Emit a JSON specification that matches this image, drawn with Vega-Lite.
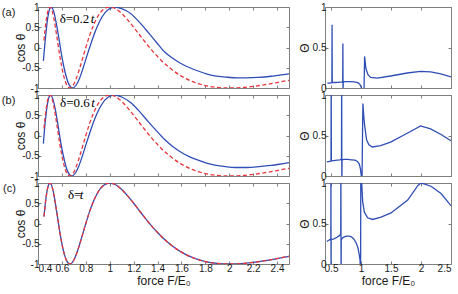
{
  "$schema": "https://vega.github.io/schema/vega-lite/v6.json",
  "padding": {"left": 1, "top": 1, "right": 0, "bottom": 0},
  "background": "white",
  "spacing": 7,
  "config": {
    "view": {"stroke": "#7f7f7f", "strokeWidth": 1},
    "axis": {"domain": false, "grid": false, "tickColor": "#7f7f7f", "tickSize": -3, "labelPadding": 2, "labelFont": "Liberation Sans", "labelFontSize": 10, "labelColor": "#1a1a1a", "titleFont": "Liberation Sans", "titleFontSize": 12, "titleFontWeight": "normal", "titleColor": "#1a1a1a", "labelExpr": "'' + datum.value"},
    "title": {"font": "Liberation Sans", "fontSize": 11, "fontWeight": "normal", "color": "#1a1a1a", "offset": -14}
  },
  "datasets": {
    "cos": [
      {"p":"a","s":"red","F":0.45,"v":0.173},{"p":"a","s":"red","F":0.46,"v":0.46},{"p":"a","s":"red","F":0.47,"v":0.695},{"p":"a","s":"red","F":0.48,"v":0.866},{"p":"a","s":"red","F":0.49,"v":0.967},{"p":"a","s":"red","F":0.5,"v":1},{"p":"a","s":"red","F":0.52,"v":0.886},{"p":"a","s":"red","F":0.54,"v":0.597},{"p":"a","s":"red","F":0.56,"v":0.223},{"p":"a","s":"red","F":0.58,"v":-0.162},{"p":"a","s":"red","F":0.6,"v":-0.5},{"p":"a","s":"red","F":0.62,"v":-0.758},{"p":"a","s":"red","F":0.64,"v":-0.924},{"p":"a","s":"red","F":0.667,"v":-1},{"p":"a","s":"red","F":0.7,"v":-0.901},{"p":"a","s":"red","F":0.72,"v":-0.766},{"p":"a","s":"red","F":0.75,"v":-0.5},{"p":"a","s":"red","F":0.78,"v":-0.2},{"p":"a","s":"red","F":0.8,"v":0},{"p":"a","s":"red","F":0.83,"v":0.28},{"p":"a","s":"red","F":0.86,"v":0.52},{"p":"a","s":"red","F":0.9,"v":0.766},{"p":"a","s":"red","F":0.95,"v":0.946},{"p":"a","s":"red","F":1,"v":1},{"p":"a","s":"red","F":1.05,"v":0.956},{"p":"a","s":"red","F":1.1,"v":0.841},{"p":"a","s":"red","F":1.15,"v":0.683},{"p":"a","s":"red","F":1.2,"v":0.5},{"p":"a","s":"red","F":1.25,"v":0.309},{"p":"a","s":"red","F":1.3,"v":0.121},{"p":"a","s":"red","F":1.35,"v":-0.058},{"p":"a","s":"red","F":1.4,"v":-0.223},{"p":"a","s":"red","F":1.5,"v":-0.5},{"p":"a","s":"red","F":1.6,"v":-0.707},{"p":"a","s":"red","F":1.7,"v":-0.85},{"p":"a","s":"red","F":1.8,"v":-0.94},{"p":"a","s":"red","F":1.9,"v":-0.986},{"p":"a","s":"red","F":2,"v":-1},{"p":"a","s":"red","F":2.1,"v":-0.989},{"p":"a","s":"red","F":2.2,"v":-0.96},{"p":"a","s":"red","F":2.3,"v":-0.918},{"p":"a","s":"red","F":2.4,"v":-0.866},{"p":"a","s":"red","F":2.5,"v":-0.809},
      {"p":"b","s":"red","F":0.45,"v":0.173},{"p":"b","s":"red","F":0.46,"v":0.46},{"p":"b","s":"red","F":0.47,"v":0.695},{"p":"b","s":"red","F":0.48,"v":0.866},{"p":"b","s":"red","F":0.49,"v":0.967},{"p":"b","s":"red","F":0.5,"v":1},{"p":"b","s":"red","F":0.52,"v":0.886},{"p":"b","s":"red","F":0.54,"v":0.597},{"p":"b","s":"red","F":0.56,"v":0.223},{"p":"b","s":"red","F":0.58,"v":-0.162},{"p":"b","s":"red","F":0.6,"v":-0.5},{"p":"b","s":"red","F":0.62,"v":-0.758},{"p":"b","s":"red","F":0.64,"v":-0.924},{"p":"b","s":"red","F":0.667,"v":-1},{"p":"b","s":"red","F":0.7,"v":-0.901},{"p":"b","s":"red","F":0.72,"v":-0.766},{"p":"b","s":"red","F":0.75,"v":-0.5},{"p":"b","s":"red","F":0.78,"v":-0.2},{"p":"b","s":"red","F":0.8,"v":0},{"p":"b","s":"red","F":0.83,"v":0.28},{"p":"b","s":"red","F":0.86,"v":0.52},{"p":"b","s":"red","F":0.9,"v":0.766},{"p":"b","s":"red","F":0.95,"v":0.946},{"p":"b","s":"red","F":1,"v":1},{"p":"b","s":"red","F":1.05,"v":0.956},{"p":"b","s":"red","F":1.1,"v":0.841},{"p":"b","s":"red","F":1.15,"v":0.683},{"p":"b","s":"red","F":1.2,"v":0.5},{"p":"b","s":"red","F":1.25,"v":0.309},{"p":"b","s":"red","F":1.3,"v":0.121},{"p":"b","s":"red","F":1.35,"v":-0.058},{"p":"b","s":"red","F":1.4,"v":-0.223},{"p":"b","s":"red","F":1.5,"v":-0.5},{"p":"b","s":"red","F":1.6,"v":-0.707},{"p":"b","s":"red","F":1.7,"v":-0.85},{"p":"b","s":"red","F":1.8,"v":-0.94},{"p":"b","s":"red","F":1.9,"v":-0.986},{"p":"b","s":"red","F":2,"v":-1},{"p":"b","s":"red","F":2.1,"v":-0.989},{"p":"b","s":"red","F":2.2,"v":-0.96},{"p":"b","s":"red","F":2.3,"v":-0.918},{"p":"b","s":"red","F":2.4,"v":-0.866},{"p":"b","s":"red","F":2.5,"v":-0.809},
      {"p":"c","s":"red","F":0.45,"v":0.173},{"p":"c","s":"red","F":0.46,"v":0.46},{"p":"c","s":"red","F":0.47,"v":0.695},{"p":"c","s":"red","F":0.48,"v":0.866},{"p":"c","s":"red","F":0.49,"v":0.967},{"p":"c","s":"red","F":0.5,"v":1},{"p":"c","s":"red","F":0.52,"v":0.886},{"p":"c","s":"red","F":0.54,"v":0.597},{"p":"c","s":"red","F":0.56,"v":0.223},{"p":"c","s":"red","F":0.58,"v":-0.162},{"p":"c","s":"red","F":0.6,"v":-0.5},{"p":"c","s":"red","F":0.62,"v":-0.758},{"p":"c","s":"red","F":0.64,"v":-0.924},{"p":"c","s":"red","F":0.667,"v":-1},{"p":"c","s":"red","F":0.7,"v":-0.901},{"p":"c","s":"red","F":0.72,"v":-0.766},{"p":"c","s":"red","F":0.75,"v":-0.5},{"p":"c","s":"red","F":0.78,"v":-0.2},{"p":"c","s":"red","F":0.8,"v":0},{"p":"c","s":"red","F":0.83,"v":0.28},{"p":"c","s":"red","F":0.86,"v":0.52},{"p":"c","s":"red","F":0.9,"v":0.766},{"p":"c","s":"red","F":0.95,"v":0.946},{"p":"c","s":"red","F":1,"v":1},{"p":"c","s":"red","F":1.05,"v":0.956},{"p":"c","s":"red","F":1.1,"v":0.841},{"p":"c","s":"red","F":1.15,"v":0.683},{"p":"c","s":"red","F":1.2,"v":0.5},{"p":"c","s":"red","F":1.25,"v":0.309},{"p":"c","s":"red","F":1.3,"v":0.121},{"p":"c","s":"red","F":1.35,"v":-0.058},{"p":"c","s":"red","F":1.4,"v":-0.223},{"p":"c","s":"red","F":1.5,"v":-0.5},{"p":"c","s":"red","F":1.6,"v":-0.707},{"p":"c","s":"red","F":1.7,"v":-0.85},{"p":"c","s":"red","F":1.8,"v":-0.94},{"p":"c","s":"red","F":1.9,"v":-0.986},{"p":"c","s":"red","F":2,"v":-1},{"p":"c","s":"red","F":2.1,"v":-0.989},{"p":"c","s":"red","F":2.2,"v":-0.96},{"p":"c","s":"red","F":2.3,"v":-0.918},{"p":"c","s":"red","F":2.4,"v":-0.866},{"p":"c","s":"red","F":2.5,"v":-0.809},
      {"p":"c","s":"blue","F":0.45,"v":0.173},{"p":"c","s":"blue","F":0.46,"v":0.46},{"p":"c","s":"blue","F":0.47,"v":0.695},{"p":"c","s":"blue","F":0.48,"v":0.866},{"p":"c","s":"blue","F":0.49,"v":0.967},{"p":"c","s":"blue","F":0.5,"v":1},{"p":"c","s":"blue","F":0.52,"v":0.886},{"p":"c","s":"blue","F":0.54,"v":0.597},{"p":"c","s":"blue","F":0.56,"v":0.223},{"p":"c","s":"blue","F":0.58,"v":-0.162},{"p":"c","s":"blue","F":0.6,"v":-0.5},{"p":"c","s":"blue","F":0.62,"v":-0.758},{"p":"c","s":"blue","F":0.64,"v":-0.924},{"p":"c","s":"blue","F":0.667,"v":-1},{"p":"c","s":"blue","F":0.7,"v":-0.901},{"p":"c","s":"blue","F":0.72,"v":-0.766},{"p":"c","s":"blue","F":0.75,"v":-0.5},{"p":"c","s":"blue","F":0.78,"v":-0.2},{"p":"c","s":"blue","F":0.8,"v":0},{"p":"c","s":"blue","F":0.83,"v":0.28},{"p":"c","s":"blue","F":0.86,"v":0.52},{"p":"c","s":"blue","F":0.9,"v":0.766},{"p":"c","s":"blue","F":0.95,"v":0.946},{"p":"c","s":"blue","F":1,"v":1},{"p":"c","s":"blue","F":1.05,"v":0.956},{"p":"c","s":"blue","F":1.1,"v":0.841},{"p":"c","s":"blue","F":1.15,"v":0.683},{"p":"c","s":"blue","F":1.2,"v":0.5},{"p":"c","s":"blue","F":1.25,"v":0.309},{"p":"c","s":"blue","F":1.3,"v":0.121},{"p":"c","s":"blue","F":1.35,"v":-0.058},{"p":"c","s":"blue","F":1.4,"v":-0.223},{"p":"c","s":"blue","F":1.5,"v":-0.5},{"p":"c","s":"blue","F":1.6,"v":-0.707},{"p":"c","s":"blue","F":1.7,"v":-0.85},{"p":"c","s":"blue","F":1.8,"v":-0.94},{"p":"c","s":"blue","F":1.9,"v":-0.986},{"p":"c","s":"blue","F":2,"v":-1},{"p":"c","s":"blue","F":2.1,"v":-0.989},{"p":"c","s":"blue","F":2.2,"v":-0.96},{"p":"c","s":"blue","F":2.3,"v":-0.918},{"p":"c","s":"blue","F":2.4,"v":-0.866},{"p":"c","s":"blue","F":2.5,"v":-0.809},
      {"p":"a","s":"blue","F":0.445,"v":-0.33},{"p":"a","s":"blue","F":0.46,"v":0.17},{"p":"a","s":"blue","F":0.47,"v":0.46},{"p":"a","s":"blue","F":0.48,"v":0.7},{"p":"a","s":"blue","F":0.49,"v":0.87},{"p":"a","s":"blue","F":0.5,"v":0.97},{"p":"a","s":"blue","F":0.51,"v":1},{"p":"a","s":"blue","F":0.532,"v":0.886},{"p":"a","s":"blue","F":0.553,"v":0.597},{"p":"a","s":"blue","F":0.575,"v":0.223},{"p":"a","s":"blue","F":0.596,"v":-0.162},{"p":"a","s":"blue","F":0.618,"v":-0.5},{"p":"a","s":"blue","F":0.64,"v":-0.758},{"p":"a","s":"blue","F":0.661,"v":-0.924},{"p":"a","s":"blue","F":0.69,"v":-1},{"p":"a","s":"blue","F":0.725,"v":-0.901},{"p":"a","s":"blue","F":0.747,"v":-0.766},{"p":"a","s":"blue","F":0.778,"v":-0.5},{"p":"a","s":"blue","F":0.81,"v":-0.2},{"p":"a","s":"blue","F":0.832,"v":0},{"p":"a","s":"blue","F":0.864,"v":0.28},{"p":"a","s":"blue","F":0.896,"v":0.52},{"p":"a","s":"blue","F":0.938,"v":0.766},{"p":"a","s":"blue","F":0.992,"v":0.946},{"p":"a","s":"blue","F":1.045,"v":1},{"p":"a","s":"blue","F":1.1,"v":0.96},{"p":"a","s":"blue","F":1.18,"v":0.83},{"p":"a","s":"blue","F":1.25,"v":0.62},{"p":"a","s":"blue","F":1.32,"v":0.38},{"p":"a","s":"blue","F":1.39,"v":0.13},{"p":"a","s":"blue","F":1.46,"v":-0.11},{"p":"a","s":"blue","F":1.53,"v":-0.27},{"p":"a","s":"blue","F":1.6,"v":-0.4},{"p":"a","s":"blue","F":1.67,"v":-0.5},{"p":"a","s":"blue","F":1.74,"v":-0.58},{"p":"a","s":"blue","F":1.81,"v":-0.65},{"p":"a","s":"blue","F":1.88,"v":-0.7},{"p":"a","s":"blue","F":1.97,"v":-0.73},{"p":"a","s":"blue","F":2.07,"v":-0.75},{"p":"a","s":"blue","F":2.15,"v":-0.75},{"p":"a","s":"blue","F":2.24,"v":-0.74},{"p":"a","s":"blue","F":2.35,"v":-0.71},{"p":"a","s":"blue","F":2.42,"v":-0.68},{"p":"a","s":"blue","F":2.5,"v":-0.65},
      {"p":"b","s":"blue","F":0.445,"v":-0.2},{"p":"b","s":"blue","F":0.455,"v":0.17},{"p":"b","s":"blue","F":0.465,"v":0.46},{"p":"b","s":"blue","F":0.475,"v":0.7},{"p":"b","s":"blue","F":0.485,"v":0.87},{"p":"b","s":"blue","F":0.495,"v":0.97},{"p":"b","s":"blue","F":0.505,"v":1},{"p":"b","s":"blue","F":0.526,"v":0.886},{"p":"b","s":"blue","F":0.548,"v":0.597},{"p":"b","s":"blue","F":0.569,"v":0.223},{"p":"b","s":"blue","F":0.59,"v":-0.162},{"p":"b","s":"blue","F":0.612,"v":-0.5},{"p":"b","s":"blue","F":0.633,"v":-0.758},{"p":"b","s":"blue","F":0.654,"v":-0.924},{"p":"b","s":"blue","F":0.683,"v":-1},{"p":"b","s":"blue","F":0.718,"v":-0.901},{"p":"b","s":"blue","F":0.74,"v":-0.766},{"p":"b","s":"blue","F":0.772,"v":-0.5},{"p":"b","s":"blue","F":0.804,"v":-0.2},{"p":"b","s":"blue","F":0.826,"v":0},{"p":"b","s":"blue","F":0.858,"v":0.28},{"p":"b","s":"blue","F":0.89,"v":0.52},{"p":"b","s":"blue","F":0.933,"v":0.766},{"p":"b","s":"blue","F":0.986,"v":0.946},{"p":"b","s":"blue","F":1.04,"v":1},{"p":"b","s":"blue","F":1.1,"v":0.95},{"p":"b","s":"blue","F":1.18,"v":0.8},{"p":"b","s":"blue","F":1.25,"v":0.59},{"p":"b","s":"blue","F":1.32,"v":0.35},{"p":"b","s":"blue","F":1.39,"v":0.12},{"p":"b","s":"blue","F":1.46,"v":-0.1},{"p":"b","s":"blue","F":1.53,"v":-0.28},{"p":"b","s":"blue","F":1.6,"v":-0.42},{"p":"b","s":"blue","F":1.67,"v":-0.53},{"p":"b","s":"blue","F":1.74,"v":-0.61},{"p":"b","s":"blue","F":1.81,"v":-0.68},{"p":"b","s":"blue","F":1.88,"v":-0.73},{"p":"b","s":"blue","F":1.97,"v":-0.77},{"p":"b","s":"blue","F":2.05,"v":-0.79},{"p":"b","s":"blue","F":2.15,"v":-0.79},{"p":"b","s":"blue","F":2.25,"v":-0.77},{"p":"b","s":"blue","F":2.35,"v":-0.74},{"p":"b","s":"blue","F":2.42,"v":-0.71},{"p":"b","s":"blue","F":2.5,"v":-0.67}
    ],
    "theta": [
      {"p":"a","F":0.44,"T":0.06},{"p":"a","F":0.48,"T":0.062},{"p":"a","F":0.515,"T":0.065},{"p":"a","F":0.518,"T":0.78},{"p":"a","F":0.521,"T":0.066},{"p":"a","F":0.56,"T":0.068},{"p":"a","F":0.62,"T":0.07},{"p":"a","F":0.695,"T":0.074},{"p":"a","F":0.698,"T":0.55},{"p":"a","F":0.701,"T":-0.05},{"p":"a","F":0.704,"T":0.075},{"p":"a","F":0.76,"T":0.078},{"p":"a","F":0.82,"T":0.078},{"p":"a","F":0.88,"T":0.075},{"p":"a","F":0.93,"T":0.07},{"p":"a","F":0.96,"T":0.06},{"p":"a","F":0.98,"T":0.045},{"p":"a","F":1.0,"T":0.02},{"p":"a","F":1.02,"T":-0.05},{"p":"a","F":1.05,"T":-0.05},{"p":"a","F":1.06,"T":0.39},{"p":"a","F":1.082,"T":0.24},{"p":"a","F":1.116,"T":0.165},{"p":"a","F":1.16,"T":0.13},{"p":"a","F":1.27,"T":0.123},{"p":"a","F":1.493,"T":0.148},{"p":"a","F":1.77,"T":0.185},{"p":"a","F":1.99,"T":0.206},{"p":"a","F":2.16,"T":0.198},{"p":"a","F":2.33,"T":0.173},{"p":"a","F":2.5,"T":0.136},
      {"p":"b","F":0.43,"T":0.175},{"p":"b","F":0.46,"T":0.178},{"p":"b","F":0.5,"T":0.182},{"p":"b","F":0.503,"T":1.2},{"p":"b","F":0.506,"T":0.19},{"p":"b","F":0.55,"T":0.19},{"p":"b","F":0.6,"T":0.195},{"p":"b","F":0.65,"T":0.2},{"p":"b","F":0.675,"T":0.21},{"p":"b","F":0.678,"T":1.2},{"p":"b","F":0.681,"T":-0.2},{"p":"b","F":0.684,"T":0.2},{"p":"b","F":0.72,"T":0.205},{"p":"b","F":0.78,"T":0.205},{"p":"b","F":0.84,"T":0.2},{"p":"b","F":0.9,"T":0.195},{"p":"b","F":0.94,"T":0.18},{"p":"b","F":0.97,"T":0.15},{"p":"b","F":0.99,"T":0.09},{"p":"b","F":1.005,"T":0.0},{"p":"b","F":1.015,"T":-0.2},{"p":"b","F":1.025,"T":0.5},{"p":"b","F":1.032,"T":0.894},{"p":"b","F":1.045,"T":0.75},{"p":"b","F":1.06,"T":0.63},{"p":"b","F":1.093,"T":0.447},{"p":"b","F":1.132,"T":0.386},{"p":"b","F":1.188,"T":0.358},{"p":"b","F":1.327,"T":0.374},{"p":"b","F":1.493,"T":0.418},{"p":"b","F":1.771,"T":0.528},{"p":"b","F":1.993,"T":0.618},{"p":"b","F":2.16,"T":0.581},{"p":"b","F":2.327,"T":0.516},{"p":"b","F":2.5,"T":0.435},
      {"p":"c","F":0.43,"T":0.28},{"p":"c","F":0.46,"T":0.29},{"p":"c","F":0.497,"T":0.31},{"p":"c","F":0.499,"T":1.2},{"p":"c","F":0.501,"T":-0.2},{"p":"c","F":0.503,"T":0.3},{"p":"c","F":0.55,"T":0.31},{"p":"c","F":0.6,"T":0.33},{"p":"c","F":0.64,"T":0.35},{"p":"c","F":0.662,"T":0.37},{"p":"c","F":0.665,"T":1.2},{"p":"c","F":0.668,"T":-0.2},{"p":"c","F":0.671,"T":0.3},{"p":"c","F":0.69,"T":0.32},{"p":"c","F":0.72,"T":0.335},{"p":"c","F":0.76,"T":0.345},{"p":"c","F":0.8,"T":0.345},{"p":"c","F":0.84,"T":0.335},{"p":"c","F":0.88,"T":0.31},{"p":"c","F":0.92,"T":0.26},{"p":"c","F":0.95,"T":0.2},{"p":"c","F":0.97,"T":0.12},{"p":"c","F":0.985,"T":0.04},{"p":"c","F":0.993,"T":-0.3},{"p":"c","F":0.997,"T":1.3},{"p":"c","F":1.005,"T":1.1},{"p":"c","F":1.028,"T":0.77},{"p":"c","F":1.056,"T":0.64},{"p":"c","F":1.111,"T":0.57},{"p":"c","F":1.195,"T":0.55},{"p":"c","F":1.334,"T":0.58},{"p":"c","F":1.5,"T":0.63},{"p":"c","F":1.778,"T":0.79},{"p":"c","F":1.95,"T":0.97},{"p":"c","F":2.0,"T":1.0},{"p":"c","F":2.05,"T":0.99},{"p":"c","F":2.167,"T":0.96},{"p":"c","F":2.334,"T":0.87},{"p":"c","F":2.5,"T":0.72}
    ],
    "notes": [
      {"p":"a","k":"n","F":0.581,"v":0.71,"txt":"δ=0.2"},{"p":"a","k":"i","F":0.842,"v":0.71,"txt":"t"},
      {"p":"b","k":"n","F":0.585,"v":0.8,"txt":"δ=0.6"},{"p":"b","k":"i","F":0.846,"v":0.8,"txt":"t"},
      {"p":"c","k":"n","F":0.65,"v":0.7,"txt":"δ="},{"p":"c","k":"i","F":0.75,"v":0.7,"txt":"t"}
    ]
  },
  "hconcat": [
    {
      "bounds": "flush",
      "spacing": 7,
      "vconcat": [
        {
          "width": 251, "height": 81,
          "title": {"text": "(a)", "orient": "left", "anchor": "end", "angle": 0, "frame": "group"},
          "resolve": {"axis": {"x": "independent", "y": "independent"}},
          "layer": [
            {"data": {"name": "cos"}, "transform": [{"filter": "datum.p == 'a' && datum.s == 'blue'"}],
             "mark": {"type": "line", "clip": true, "interpolate": "monotone", "strokeWidth": 1.3, "color": "#2f4eb5"},
             "encoding": {"x": {"field": "F", "type": "quantitative", "scale": {"domain": [0.4, 2.5], "nice": false, "zero": false}, "axis": {"orient": "bottom", "values": [0.4,0.6,0.8,1,1.2,1.4,1.6,1.8,2,2.2,2.4], "labels": false, "title": null}},
                          "y": {"field": "v", "type": "quantitative", "scale": {"domain": [-1, 1], "nice": false, "zero": false}, "axis": {"orient": "left", "values": [-1,-0.5,0,0.5,1], "title": "cos θ", "titlePadding": -6}}}},
            {"data": {"name": "cos"}, "transform": [{"filter": "datum.p == 'a' && datum.s == 'red'"}],
             "mark": {"type": "line", "clip": true, "interpolate": "monotone", "strokeWidth": 1.3, "color": "#e8363c", "strokeDash": [4, 2.5]},
             "encoding": {"x": {"field": "F", "type": "quantitative", "scale": {"domain": [0.4, 2.5], "nice": false, "zero": false}, "axis": {"orient": "top", "values": [0.4,0.6,0.8,1,1.2,1.4,1.6,1.8,2,2.2,2.4], "labels": false, "title": null}},
                          "y": {"field": "v", "type": "quantitative", "scale": {"domain": [-1, 1], "nice": false, "zero": false}, "axis": {"orient": "right", "values": [-1,-0.5,0,0.5,1], "labels": false, "title": null}}}},
            {"data": {"name": "notes"}, "transform": [{"filter": "datum.p == 'a' && datum.k == 'n'"}],
             "mark": {"type": "text", "align": "left", "baseline": "middle", "font": "Liberation Serif", "fontSize": 13, "color": "black"},
             "encoding": {"x": {"field": "F", "type": "quantitative", "axis": null}, "y": {"field": "v", "type": "quantitative", "axis": null}, "text": {"field": "txt"}}},
            {"data": {"name": "notes"}, "transform": [{"filter": "datum.p == 'a' && datum.k == 'i'"}],
             "mark": {"type": "text", "align": "left", "baseline": "middle", "font": "Liberation Serif", "fontStyle": "italic", "fontSize": 13, "color": "black"},
             "encoding": {"x": {"field": "F", "type": "quantitative", "axis": null}, "y": {"field": "v", "type": "quantitative", "axis": null}, "text": {"field": "txt"}}}
          ]
        },
        {
          "width": 251, "height": 81,
          "title": {"text": "(b)", "orient": "left", "anchor": "end", "angle": 0, "frame": "group"},
          "resolve": {"axis": {"x": "independent", "y": "independent"}},
          "layer": [
            {"data": {"name": "cos"}, "transform": [{"filter": "datum.p == 'b' && datum.s == 'blue'"}],
             "mark": {"type": "line", "clip": true, "interpolate": "monotone", "strokeWidth": 1.3, "color": "#2f4eb5"},
             "encoding": {"x": {"field": "F", "type": "quantitative", "scale": {"domain": [0.4, 2.5], "nice": false, "zero": false}, "axis": {"orient": "bottom", "values": [0.4,0.6,0.8,1,1.2,1.4,1.6,1.8,2,2.2,2.4], "labels": false, "title": null}},
                          "y": {"field": "v", "type": "quantitative", "scale": {"domain": [-1, 1], "nice": false, "zero": false}, "axis": {"orient": "left", "values": [-1,-0.5,0,0.5,1], "title": "cos θ", "titlePadding": -6}}}},
            {"data": {"name": "cos"}, "transform": [{"filter": "datum.p == 'b' && datum.s == 'red'"}],
             "mark": {"type": "line", "clip": true, "interpolate": "monotone", "strokeWidth": 1.3, "color": "#e8363c", "strokeDash": [4, 2.5]},
             "encoding": {"x": {"field": "F", "type": "quantitative", "scale": {"domain": [0.4, 2.5], "nice": false, "zero": false}, "axis": {"orient": "top", "values": [0.4,0.6,0.8,1,1.2,1.4,1.6,1.8,2,2.2,2.4], "labels": false, "title": null}},
                          "y": {"field": "v", "type": "quantitative", "scale": {"domain": [-1, 1], "nice": false, "zero": false}, "axis": {"orient": "right", "values": [-1,-0.5,0,0.5,1], "labels": false, "title": null}}}},
            {"data": {"name": "notes"}, "transform": [{"filter": "datum.p == 'b' && datum.k == 'n'"}],
             "mark": {"type": "text", "align": "left", "baseline": "middle", "font": "Liberation Serif", "fontSize": 13, "color": "black"},
             "encoding": {"x": {"field": "F", "type": "quantitative", "axis": null}, "y": {"field": "v", "type": "quantitative", "axis": null}, "text": {"field": "txt"}}},
            {"data": {"name": "notes"}, "transform": [{"filter": "datum.p == 'b' && datum.k == 'i'"}],
             "mark": {"type": "text", "align": "left", "baseline": "middle", "font": "Liberation Serif", "fontStyle": "italic", "fontSize": 13, "color": "black"},
             "encoding": {"x": {"field": "F", "type": "quantitative", "axis": null}, "y": {"field": "v", "type": "quantitative", "axis": null}, "text": {"field": "txt"}}}
          ]
        },
        {
          "width": 251, "height": 81,
          "title": {"text": "(c)", "orient": "left", "anchor": "end", "angle": 0, "frame": "group"},
          "resolve": {"axis": {"x": "independent", "y": "independent"}},
          "layer": [
            {"data": {"name": "cos"}, "transform": [{"filter": "datum.p == 'c' && datum.s == 'blue'"}],
             "mark": {"type": "line", "clip": true, "interpolate": "monotone", "strokeWidth": 1.3, "color": "#2f4eb5"},
             "encoding": {"x": {"field": "F", "type": "quantitative", "scale": {"domain": [0.4, 2.5], "nice": false, "zero": false}, "axis": {"orient": "bottom", "values": [0.4,0.6,0.8,1,1.2,1.4,1.6,1.8,2,2.2,2.4], "title": "force F/E₀", "titlePadding": 2}},
                          "y": {"field": "v", "type": "quantitative", "scale": {"domain": [-1, 1], "nice": false, "zero": false}, "axis": {"orient": "left", "values": [-1,-0.5,0,0.5,1], "title": "cos θ", "titlePadding": -6}}}},
            {"data": {"name": "cos"}, "transform": [{"filter": "datum.p == 'c' && datum.s == 'red'"}],
             "mark": {"type": "line", "clip": true, "interpolate": "monotone", "strokeWidth": 1.3, "color": "#e8363c", "strokeDash": [4, 2.5]},
             "encoding": {"x": {"field": "F", "type": "quantitative", "scale": {"domain": [0.4, 2.5], "nice": false, "zero": false}, "axis": {"orient": "top", "values": [0.4,0.6,0.8,1,1.2,1.4,1.6,1.8,2,2.2,2.4], "labels": false, "title": null}},
                          "y": {"field": "v", "type": "quantitative", "scale": {"domain": [-1, 1], "nice": false, "zero": false}, "axis": {"orient": "right", "values": [-1,-0.5,0,0.5,1], "labels": false, "title": null}}}},
            {"data": {"name": "notes"}, "transform": [{"filter": "datum.p == 'c' && datum.k == 'n'"}],
             "mark": {"type": "text", "align": "left", "baseline": "middle", "font": "Liberation Serif", "fontSize": 13, "color": "black"},
             "encoding": {"x": {"field": "F", "type": "quantitative", "axis": null}, "y": {"field": "v", "type": "quantitative", "axis": null}, "text": {"field": "txt"}}},
            {"data": {"name": "notes"}, "transform": [{"filter": "datum.p == 'c' && datum.k == 'i'"}],
             "mark": {"type": "text", "align": "left", "baseline": "middle", "font": "Liberation Serif", "fontStyle": "italic", "fontSize": 13, "color": "black"},
             "encoding": {"x": {"field": "F", "type": "quantitative", "axis": null}, "y": {"field": "v", "type": "quantitative", "axis": null}, "text": {"field": "txt"}}}
          ]
        }
      ]
    },
    {
      "bounds": "flush",
      "spacing": 7,
      "vconcat": [
        {
          "width": 126, "height": 81,
          "data": {"name": "theta"},
          "transform": [{"filter": "datum.p == 'a'"}],
          "resolve": {"axis": {"x": "independent", "y": "independent"}},
          "layer": [
            {"mark": {"type": "line", "clip": true, "strokeWidth": 1.3, "color": "#2f4eb5"},
             "encoding": {"x": {"field": "F", "type": "quantitative", "scale": {"domain": [0.4, 2.5], "nice": false, "zero": false}, "axis": {"orient": "bottom", "values": [0.5,1,1.5,2,2.5], "labels": false, "title": null}},
                          "y": {"field": "T", "type": "quantitative", "scale": {"domain": [0, 1], "nice": false, "zero": false}, "axis": {"orient": "left", "values": [0,0.5,1], "title": "Θ", "titlePadding": 1}}}},
            {"mark": {"type": "line", "clip": true, "strokeOpacity": 0},
             "encoding": {"x": {"field": "F", "type": "quantitative", "axis": {"orient": "top", "values": [0.5,1,1.5,2,2.5], "labels": false, "title": null}},
                          "y": {"field": "T", "type": "quantitative", "axis": {"orient": "right", "values": [0,0.5,1], "labels": false, "title": null}}}}
          ]
        },
        {
          "width": 126, "height": 81,
          "data": {"name": "theta"},
          "transform": [{"filter": "datum.p == 'b'"}],
          "resolve": {"axis": {"x": "independent", "y": "independent"}},
          "layer": [
            {"mark": {"type": "line", "clip": true, "strokeWidth": 1.3, "color": "#2f4eb5"},
             "encoding": {"x": {"field": "F", "type": "quantitative", "scale": {"domain": [0.4, 2.5], "nice": false, "zero": false}, "axis": {"orient": "bottom", "values": [0.5,1,1.5,2,2.5], "labels": false, "title": null}},
                          "y": {"field": "T", "type": "quantitative", "scale": {"domain": [0, 1], "nice": false, "zero": false}, "axis": {"orient": "left", "values": [0,0.5,1], "title": "Θ", "titlePadding": 1}}}},
            {"mark": {"type": "line", "clip": true, "strokeOpacity": 0},
             "encoding": {"x": {"field": "F", "type": "quantitative", "axis": {"orient": "top", "values": [0.5,1,1.5,2,2.5], "labels": false, "title": null}},
                          "y": {"field": "T", "type": "quantitative", "axis": {"orient": "right", "values": [0,0.5,1], "labels": false, "title": null}}}}
          ]
        },
        {
          "width": 126, "height": 81,
          "data": {"name": "theta"},
          "transform": [{"filter": "datum.p == 'c'"}],
          "resolve": {"axis": {"x": "independent", "y": "independent"}},
          "layer": [
            {"mark": {"type": "line", "clip": true, "strokeWidth": 1.3, "color": "#2f4eb5"},
             "encoding": {"x": {"field": "F", "type": "quantitative", "scale": {"domain": [0.4, 2.5], "nice": false, "zero": false}, "axis": {"orient": "bottom", "values": [0.5,1,1.5,2,2.5], "title": "force F/E₀", "titlePadding": 2}},
                          "y": {"field": "T", "type": "quantitative", "scale": {"domain": [0, 1], "nice": false, "zero": false}, "axis": {"orient": "left", "values": [0,0.5,1], "title": "Θ", "titlePadding": 1}}}},
            {"mark": {"type": "line", "clip": true, "strokeOpacity": 0},
             "encoding": {"x": {"field": "F", "type": "quantitative", "axis": {"orient": "top", "values": [0.5,1,1.5,2,2.5], "labels": false, "title": null}},
                          "y": {"field": "T", "type": "quantitative", "axis": {"orient": "right", "values": [0,0.5,1], "labels": false, "title": null}}}}
          ]
        }
      ]
    }
  ]
}
